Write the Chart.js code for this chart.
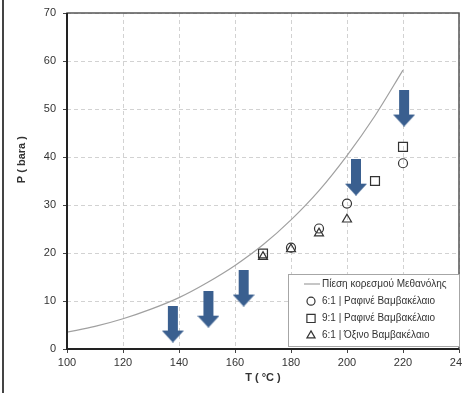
<!DOCTYPE html>
<html>
<head>
<meta charset="utf-8">
<script src="https://cdn.jsdelivr.net/npm/chart.js@4.4.0/dist/chart.umd.min.js"></script>
<style>
  body { margin: 0; background: #fff; }
  #wrap { width: 462px; height: 393px; }
</style>
</head>
<body>
<div id="wrap"><canvas id="chart" width="462" height="393"></canvas></div>
<script>
// saturation curve of methanol
const tempC = [100, 110, 120, 130, 140, 150, 160, 170, 180, 190, 200, 210, 220];
const satPressure = [3.5, 4.7, 6.3, 8.3, 10.7, 13.8, 17.4, 21.7, 26.9, 33.0, 40.3, 48.6, 58.1];

// measured points
const t61ref = [180, 190, 200, 220];
const p61ref = [21.1, 25.1, 30.3, 38.7];
const t91ref = [170, 210, 220];
const p91ref = [19.9, 35.0, 42.1];
const t61crude = [170, 180, 190, 200];
const p61crude = [19.2, 20.8, 24.1, 27.0];

// down arrows (centre of each arrow)
const arrowT = [137.8, 150.5, 163.1, 203.2, 220.4];
const arrowP = [5.2, 8.3, 12.7, 35.8, 50.2];

const seriesLabels = [
  'Πίεση κορεσμού Μεθανόλης',
  '6:1 | Ραφινέ Βαμβακέλαιο',
  '9:1 | Ραφινέ Βαμβακέλαιο',
  '6:1 | Όξινο Βαμβακέλαιο'
];

const xTicks = [100, 120, 140, 160, 180, 200, 220, 240];
const yTicks = [0, 10, 20, 30, 40, 50, 60, 70];

const FONT = 'Liberation Sans, Arial, sans-serif';
const ink = '#333';

function toXY(xs, ys) {
  return xs.map((x, i) => ({ x: x, y: ys[i] }));
}

// arrow shape used as point image
const arrowImg = document.createElement('canvas');
arrowImg.width = 22;
arrowImg.height = 37;
(function () {
  const c = arrowImg.getContext('2d');
  c.fillStyle = '#3a5f8f';
  c.beginPath();
  c.moveTo(6, 0);
  c.lineTo(16, 0);
  c.lineTo(16, 25);
  c.lineTo(22, 25);
  c.lineTo(11, 37);
  c.lineTo(0, 25);
  c.lineTo(6, 25);
  c.closePath();
  c.fill();
})();

const framePlugin = {
  id: 'frame',
  afterDraw(chart) {
    const ctx = chart.ctx;
    const a = chart.chartArea;
    ctx.save();
    // outer figure border on the left
    ctx.fillStyle = '#444';
    ctx.fillRect(2, 0, 2, chart.height);
    // plot frame
    ctx.strokeStyle = '#555';
    ctx.lineWidth = 1.5;
    ctx.strokeRect(a.left, a.top, a.right - a.left, a.bottom - a.top);
    ctx.strokeStyle = '#222';
    ctx.lineWidth = 2;
    ctx.beginPath();
    ctx.moveTo(a.left, a.top);
    ctx.lineTo(a.left, a.bottom);
    ctx.lineTo(a.right, a.bottom);
    ctx.stroke();

    // legend box
    const w = 171, h = 72;
    const bx = a.right - w, by = a.bottom - 75;
    ctx.fillStyle = '#fff';
    ctx.fillRect(bx, by, w, h);
    ctx.strokeStyle = '#a6a6a6';
    ctx.lineWidth = 1;
    ctx.strokeRect(bx + 0.5, by + 0.5, w, h);

    ctx.font = '10px ' + FONT;
    ctx.textBaseline = 'middle';
    ctx.textAlign = 'left';
    const sx = bx + 23;
    seriesLabels.forEach((label, i) => {
      const cy = by + 10 + i * 17.2;
      const ds = chart.data.datasets[i + 1];
      ctx.strokeStyle = ds.borderColor;
      ctx.lineWidth = ds.borderWidth || 1;
      if (i === 0) {
        ctx.beginPath();
        ctx.moveTo(bx + 16, cy);
        ctx.lineTo(bx + 32, cy);
        ctx.stroke();
      } else {
        ctx.fillStyle = 'rgba(255,255,255,0)';
        Chart.helpers.drawPoint(ctx, {
          pointStyle: ds.pointStyle,
          radius: ds.pointRadius - 0.5,
          borderWidth: 1
        }, sx, cy);
      }
      ctx.fillStyle = ink;
      ctx.fillText(label, bx + 34, cy);
    });
    ctx.restore();
  }
};

const data = {
  datasets: [
    {
      label: 'arrows',
      data: toXY(arrowT, arrowP),
      pointStyle: arrowImg,
      pointRadius: 10,
      showLine: false
    },
    {
      label: seriesLabels[0],
      data: toXY(tempC, satPressure),
      showLine: true,
      borderColor: '#a0a0a0',
      borderWidth: 1.2,
      pointRadius: 0,
      cubicInterpolationMode: 'monotone'
    },
    {
      label: seriesLabels[1],
      data: toXY(t61ref, p61ref),
      pointStyle: 'circle',
      pointRadius: 4.5,
      borderColor: ink,
      borderWidth: 1.2,
      backgroundColor: 'rgba(255,255,255,0)'
    },
    {
      label: seriesLabels[2],
      data: toXY(t91ref, p91ref),
      pointStyle: 'rect',
      pointRadius: 6.3,
      borderColor: ink,
      borderWidth: 1.2,
      backgroundColor: 'rgba(255,255,255,0)'
    },
    {
      label: seriesLabels[3],
      data: toXY(t61crude, p61crude),
      pointStyle: 'triangle',
      pointRadius: 5.2,
      borderColor: ink,
      borderWidth: 1.2,
      backgroundColor: 'rgba(255,255,255,0)'
    }
  ]
};

const config = {
  type: 'scatter',
  data,
  plugins: [framePlugin],
  options: {
    responsive: false,
    animation: false,
    devicePixelRatio: 1,
    layout: { autoPadding: false, padding: { top: 13, right: 3, left: 0, bottom: 0 } },
    plugins: {
      legend: { display: false },
      tooltip: { enabled: false }
    },
    scales: {
      x: {
        type: 'linear',
        min: 100,
        max: 240,
        afterBuildTicks: (s) => { s.ticks = xTicks.map(v => ({ value: v })); },
        afterFit: (s) => { s.height = 44; s.paddingLeft = 0; s.paddingRight = 0; },
        ticks: { autoSkip: false, maxRotation: 0, padding: 3, color: ink, font: { size: 11, family: FONT } },
        grid: { color: '#d2d2d2', lineWidth: 1, tickLength: 4, tickColor: '#444', tickBorderDash: [] },
        border: { display: false, dash: [4, 3] },
        title: {
          display: true,
          text: 'T ( °C )',
          color: ink,
          font: { size: 11, weight: 'bold', family: FONT },
          padding: { top: 0, bottom: 8.4 }
        }
      },
      y: {
        min: 0,
        max: 70,
        afterBuildTicks: (s) => { s.ticks = yTicks.map(v => ({ value: v })); },
        afterFit: (s) => { s.width = 67; s.paddingTop = 0; s.paddingBottom = 0; },
        ticks: { padding: 7, color: ink, font: { size: 11, family: FONT } },
        grid: { color: '#d2d2d2', lineWidth: 1, tickLength: 4, tickColor: '#444', tickBorderDash: [] },
        border: { display: false, dash: [4, 3] },
        title: {
          display: true,
          text: '              P ( bara )',
          color: ink,
          font: { size: 11, weight: 'bold', family: FONT },
          padding: { top: 15.4, bottom: 0 }
        }
      }
    }
  }
};

const myChart = new Chart(document.getElementById('chart'), config);
</script>
</body>
</html>
